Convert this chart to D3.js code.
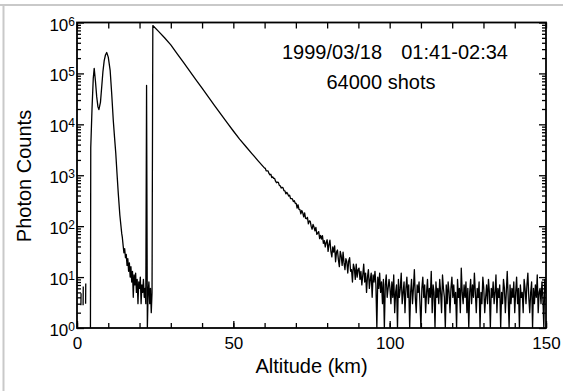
<!DOCTYPE html>
<html>
<head>
<meta charset="utf-8">
<script src="https://cdn.jsdelivr.net/npm/d3@7"></script>
<style>
  body { margin: 0; background: #fff; }
  svg text { font-family: "Liberation Sans", Arial, sans-serif; fill: #000; }
</style>
</head>
<body>
<svg id="chart"></svg>
<script>
// ---------- data ----------
// short stray returns near the ground (null = gap in record)
var strayKm     = [1.25, 1.3, null, 1.95, 2.0, null, 2.75, 2.8];
var strayCounts = [2.8, 4.8, null, 2.8, 6.5, null, 3.0, 7.5];

// tropospheric returns (cloud / aerosol peaks)
var tropoKm     = [4.3, 4.4, 4.8, 5.2, 5.5, 5.9, 6.3, 6.7, 7.0, 7.5, 7.9, 8.3, 8.7, 9.1, 9.5,
                   10.0, 10.6, 11.1, 11.6, 12.0, 12.4, 12.8, 13.2, 13.7, 14.3, 14.5];
var tropoCounts = [1, 3500, 20000, 80000, 126000, 70000, 35000, 22000, 19500, 27000, 54000,
                   110000, 178000, 230000, 257000, 209000, 115000, 40000, 12000, 5600, 2700,
                   1070, 440, 166, 72, 60];

// noisy gap before the chopper opens, 0.25 km gates from 14.75 km
var gapStartKm = 14.75, gapStepKm = 0.25;
var gapCounts = [42, 30, 36, 24, 28, 17, 23, 13, 19, 10, 16, 8, 13, 4, 11, 7, 12, 5, 9, 3,
                 8, 6, 10, 3, 7, 5, 9, 4, 6, 3, 58000, 1, 5, 8, 3, 6, 2, 5];

// Rayleigh signal above 24 km
var rayleighKm     = [24.25, 26, 28, 30, 32, 34, 36, 38, 40, 42, 44, 46, 48, 50, 52, 54, 56, 58, 60];
var rayleighCounts = [870000, 676000, 501000, 363000, 245000, 166000, 112000, 75900, 51300, 34700,
                      23400, 15800, 10800, 7400, 5130, 3670, 2630, 1900, 1380];

// upper gates, 0.3 km wide
var gateStepKm = 0.3;
var counts60 = [1380, 1226, 1217, 1218, 1083, 1021, 1044, 900, 930, 869, 869, 765, 714, 731, 724,
                631, 620, 561, 580, 564, 497, 493, 432, 461, 430, 390, 406, 347, 348, 342, 303,
                316, 281];                                                        // from 60.2 km
var counts70 = [279, 227, 263, 214, 211, 175, 203, 183, 152, 182, 142, 140, 149, 111, 127, 124,
                99, 87, 108, 96, 81, 95, 69, 73, 78, 57, 66, 56, 65, 46, 52, 39, 48];  // from 70.1 km
var counts80 = [54, 32, 44, 53, 32, 25, 39, 31, 41, 20, 31, 34, 22, 16, 32, 26, 17, 31, 19, 14,
                23, 20, 12, 21, 24, 13, 14, 8, 18, 15, 9, 18, 10, 14];           // from 80.0 km
var counts90 = [15, 9, 13, 7, 11, 18, 8, 12, 5, 10, 14, 6, 9, 12, 4, 11, 8, 13, 7, 1,
                10, 6, 12, 5, 8, 3, 9, 1, 7, 11, 4, 6, 9];                        // from 90.2 km
var counts100 = [6, 3, 8, 4, 11, 2, 5, 7, 1, 9,  4, 6, 12, 3, 5, 8, 2, 6, 10, 4,
                 7, 1, 5, 9, 3, 6, 14, 4, 2, 7,  5, 8, 3, 1, 6, 10, 4, 7, 2, 5,
                 9, 3, 6, 4, 13, 2, 7, 5, 1, 8,  4, 6, 3, 9, 5, 2, 11, 6, 4, 1,
                 7, 3, 8, 5, 2, 6, 10, 4, 7, 3,  5, 1, 9, 4, 6, 2, 15, 5, 3, 7,
                 4, 8, 2, 6, 1, 5, 9, 3, 7, 4,  12, 5, 2, 6, 4, 8, 1, 5, 3, 10,
                 6, 2, 4, 7, 3, 9, 5, 1, 6, 4,  8, 3, 5, 11, 2, 6, 4, 7, 1, 5,
                 3, 9, 6, 2, 5, 13, 4, 1, 7, 3,  6, 4, 8, 2, 5, 10, 3, 6, 1, 7,
                 4, 5, 2, 9, 6, 3, 7, 12, 4, 2,  5, 8, 1, 6, 3, 7, 4, 11, 2, 5,
                 6, 3, 8, 4, 1, 9, 5, 7];                                         // from 100.1 km
var gateBlocks = [[60.2, counts60], [70.1, counts70], [80.0, counts80], [90.2, counts90], [100.1, counts100]];

var xTicksMajor = [0, 50, 100, 150];
var yDecades = [1, 10, 100, 1000, 10000, 100000, 1000000];
var noteLine1a = "1999/03/18", noteLine1b = "01:41-02:34", noteLine2 = "64000 shots";

// ---------- layout ----------
var W = 563, H = 391;
var box = { l: 77, r: 546, t: 22.5, b: 328 };

var svg = d3.select('#chart').attr('width', W).attr('height', H);

// faint scan frame at the top and left
svg.append('line').attr('x1', 0).attr('x2', W).attr('y1', 5).attr('y2', 5)
    .attr('stroke', '#c9c9c9').attr('stroke-width', 2);
svg.append('line').attr('x1', 3.5).attr('x2', 3.5).attr('y1', 4).attr('y2', H)
    .attr('stroke', '#c9c9c9').attr('stroke-width', 2);

var x = d3.scaleLinear().domain([0, 150]).range([box.l, box.r]);
var y = d3.scaleLog().domain([1, 1e6]).range([box.b, box.t]);

// build the profile points
var points = [];
strayKm.forEach((k, i) => points.push(k == null ? null : { km: k, c: strayCounts[i] }));
points.push(null);
tropoKm.forEach((k, i) => points.push({ km: k, c: tropoCounts[i] }));
gapCounts.forEach((c, i) => points.push({ km: gapStartKm + i * gapStepKm, c: c }));
rayleighKm.forEach((k, i) => points.push({ km: k, c: rayleighCounts[i] }));
gateBlocks.forEach(b => b[1].forEach((c, i) => points.push({ km: b[0] + i * gateStepKm, c: c })));

svg.append('clipPath').attr('id', 'clip')
    .append('rect').attr('x', box.l).attr('y', box.t)
    .attr('width', box.r - box.l).attr('height', box.b - box.t);

var line = d3.line()
    .defined(d => d != null)
    .x(d => x(d.km))
    .y(d => y(Math.max(d.c, 1)));

svg.append('path')
    .datum(points)
    .attr('clip-path', 'url(#clip)')
    .attr('fill', 'none')
    .attr('stroke', '#000')
    .attr('stroke-width', 1.3)
    .attr('stroke-linejoin', 'round')
    .attr('d', line);

// ---------- axes (ticks point inward) ----------
function tidy(g) {
    g.select('.domain').remove();
    g.selectAll('.tick line').attr('stroke', '#000').attr('stroke-width', 1.3);
}
var xMinor = d3.range(0, 151, 10);
var yMinor = y.ticks().filter(v => yDecades.indexOf(v) < 0);

svg.append('g').attr('transform', `translate(0,${box.b})`)
    .call(d3.axisBottom(x).tickValues(xMinor).tickSize(-5).tickFormat('')).call(tidy);
svg.append('g').attr('transform', `translate(0,${box.b})`)
    .call(d3.axisBottom(x).tickValues(xTicksMajor).tickSize(-7).tickPadding(9).tickFormat(d3.format('d')))
    .call(tidy)
    .call(g => g.selectAll('text').attr('font-size', 17).attr('font-family', '"Liberation Sans", Arial, sans-serif'));
svg.append('g').attr('transform', `translate(0,${box.t})`)
    .call(d3.axisTop(x).tickValues(xMinor).tickSize(-6).tickFormat('')).call(tidy);

svg.append('g').attr('transform', `translate(${box.l},0)`)
    .call(d3.axisLeft(y).tickValues(yDecades).tickSize(-7).tickFormat('')).call(tidy);
svg.append('g').attr('transform', `translate(${box.l},0)`)
    .call(d3.axisLeft(y).tickValues(yMinor).tickSize(-4).tickFormat('')).call(tidy);
svg.append('g').attr('transform', `translate(${box.r},0)`)
    .call(d3.axisRight(y).tickValues(yDecades).tickSize(-7).tickFormat('')).call(tidy);
svg.append('g').attr('transform', `translate(${box.r},0)`)
    .call(d3.axisRight(y).tickValues(yMinor).tickSize(-4).tickFormat('')).call(tidy);

// y labels as 10 with superscript exponent
var yl = svg.append('g').selectAll('text').data(yDecades).join('text')
    .attr('text-anchor', 'end')
    .attr('x', box.l - 2)
    .attr('y', d => y(d) + 8);
yl.append('tspan').attr('font-size', 17).text('10');
yl.append('tspan').attr('font-size', 12).attr('dy', -5).text(d => Math.round(Math.log10(d)));

// plot frame
svg.append('rect')
    .attr('x', box.l).attr('y', box.t)
    .attr('width', box.r - box.l).attr('height', box.b - box.t)
    .attr('fill', 'none').attr('stroke', '#000').attr('stroke-width', 1.8);

// axis titles
svg.append('text').attr('x', (box.l + box.r) / 2).attr('y', 373)
    .attr('text-anchor', 'middle').attr('font-size', 20).text('Altitude (km)');
svg.append('text').attr('transform', 'translate(31,176) rotate(-90)')
    .attr('text-anchor', 'middle').attr('font-size', 20).text('Photon Counts');

// annotation
svg.append('text').attr('x', 282).attr('y', 59).attr('font-size', 20).text(noteLine1a);
svg.append('text').attr('x', 508).attr('y', 59).attr('text-anchor', 'end').attr('font-size', 20).text(noteLine1b);
svg.append('text').attr('x', 381).attr('y', 89).attr('text-anchor', 'middle').attr('font-size', 20).text(noteLine2);
</script>
</body>
</html>
